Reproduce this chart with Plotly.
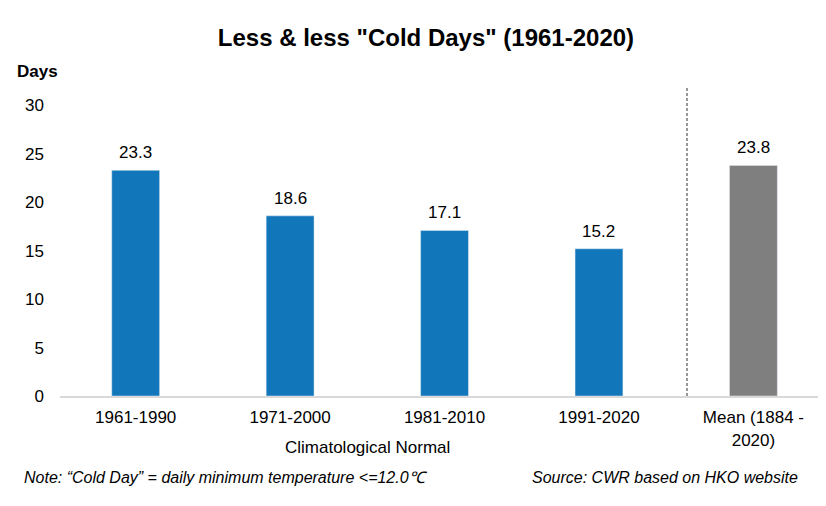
import plotly.graph_objects as go

# Chart data
categories = ["1961-1990", "1971-2000", "1981-2010", "1991-2020", "Mean (1884 -<br>2020)"]
cold_days = [23.3, 18.6, 17.1, 15.2, 23.8]
bar_colors = ["#1176BA", "#1176BA", "#1176BA", "#1176BA", "#7F7F7F"]
y_ticks = [0, 5, 10, 15, 20, 25, 30]

FONT = "Liberation Sans, Arial, sans-serif"

fig = go.Figure()
fig.add_trace(go.Bar(x=categories, y=cold_days, marker_color=bar_colors,
                     width=0.31, hoverinfo="x+y"))

# value labels above the bars
for cat, val in zip(categories, cold_days):
    fig.add_annotation(x=cat, y=val, text=f"{val:.1f}", showarrow=False,
                       yanchor="bottom", yshift=6, font=dict(size=17, color="#000000"))

# dashed separator between normals and long-term mean
fig.add_shape(type="line", xref="x", yref="y", x0=3.57, x1=3.57, y0=0, y1=31.8,
              line=dict(color="#303030", width=1, dash="3px,2px"))

fig.add_annotation(xref="paper", yref="paper", x=-0.0587, y=1.052, text="<b>Days</b>",
                   showarrow=False, xanchor="left", yanchor="middle",
                   font=dict(size=17, color="#000000"))
fig.add_annotation(xref="x", yref="paper", x=1.5, y=-0.166, text="Climatological Normal",
                   showarrow=False, yanchor="middle", font=dict(size=17, color="#000000"))
fig.add_annotation(xref="paper", yref="paper", x=-0.0496, y=-0.263,
                   text="<i>Note: “Cold Day” = daily minimum temperature <=12.0℃</i>",
                   showarrow=False, xanchor="left", yanchor="middle",
                   font=dict(size=16, color="#000000"))
fig.add_annotation(xref="paper", yref="paper", x=0.966, y=-0.263,
                   text="<i>Source: CWR based on HKO website</i>",
                   showarrow=False, xanchor="right", yanchor="middle",
                   font=dict(size=16, color="#000000"))

fig.update_layout(
    width=826, height=506,
    margin=dict(l=52, r=8, t=80, b=118),
    paper_bgcolor="white", plot_bgcolor="white",
    font=dict(family=FONT, size=17, color="#000000"),
    title=dict(text="<b>Less & less \"Cold Days\" (1961-2020)</b>", x=0.506, xanchor="center",
               y=0.941, yanchor="middle", font=dict(size=24, color="#000000")),
    showlegend=False,
)
fig.update_xaxes(range=[-0.49, 4.47], showline=True, linecolor="#D9D9D9", linewidth=2,
                 showgrid=False, ticks="", ticklabelstandoff=5, tickfont=dict(size=17))
fig.update_yaxes(range=[0, 31.8], tickvals=y_ticks, showgrid=False, zeroline=False,
                 showline=False, ticks="", ticklabelstandoff=15, tickfont=dict(size=17))

fig.write_html("out.html")
